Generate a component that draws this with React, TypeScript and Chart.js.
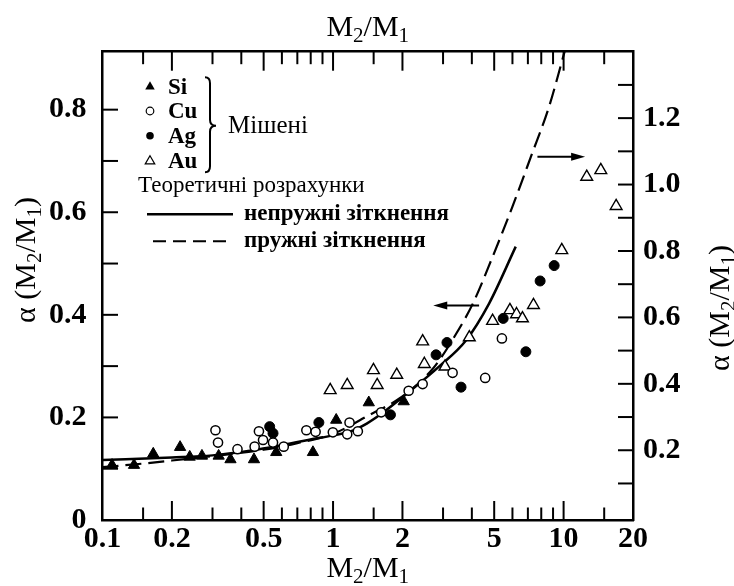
import React, { useEffect, useRef } from 'react';
import { Chart, registerables } from 'chart.js';

Chart.register(...registerables);

const FONT = '"Liberation Serif", "Times New Roman", serif';

// ---- axis ticks ----
const xTickLabels = [0.1, 0.2, 0.5, 1, 2, 5, 10, 20];
const xMajorTicks = [0.2, 0.5, 1, 2, 5, 10];
const xMinorTicks = [0.15, 0.3, 0.4, 0.6, 0.7, 0.8, 0.9, 1.5, 3, 4, 6, 7, 8, 9, 15];
const yLeftTicks = [0.1, 0.2, 0.3, 0.4, 0.5, 0.6, 0.7, 0.8];
const yLeftLabels = [0, 0.2, 0.4, 0.6, 0.8];
const yRightTicks = [0.1, 0.2, 0.3, 0.4, 0.5, 0.6, 0.7, 0.8, 0.9, 1.0, 1.1, 1.2, 1.3];
const yRightLabels = [0.2, 0.4, 0.6, 0.8, 1.0, 1.2];

// ---- experimental data ----
const siX = [0.11, 0.137, 0.166, 0.217, 0.239, 0.27, 0.319, 0.359, 0.454, 0.567, 0.818, 1.032, 1.429, 2.025];
const siY = [0.107, 0.107, 0.129, 0.142, 0.123, 0.125, 0.125, 0.118, 0.118, 0.132, 0.132, 0.195, 0.229, 0.231];

const cuX = [0.309, 0.317, 0.385, 0.457, 0.477, 0.497, 0.549, 0.611, 0.766, 0.84, 0.998, 1.152, 1.179, 1.281, 1.617, 2.128, 2.447, 3.3, 4.57, 5.4];
const cuY = [0.175, 0.151, 0.138, 0.143, 0.173, 0.156, 0.151, 0.143, 0.175, 0.172, 0.171, 0.167, 0.19, 0.173, 0.21, 0.252, 0.265, 0.287, 0.277, 0.354];

const agX = [0.531, 0.549, 0.868, 1.774, 2.798, 3.12, 3.59, 5.47, 6.86, 7.91, 9.1];
const agY = [0.182, 0.169, 0.19, 0.205, 0.322, 0.346, 0.259, 0.393, 0.328, 0.466, 0.496];

const auX = [0.972, 1.152, 1.497, 1.554, 1.889, 2.447, 2.489, 3.06, 3.9, 4.92, 5.85, 6.25, 6.63, 7.4, 9.82, 12.6, 14.5, 16.9];
const auY = [0.253, 0.263, 0.292, 0.263, 0.283, 0.348, 0.304, 0.299, 0.356, 0.388, 0.409, 0.401, 0.393, 0.419, 0.526, 0.669, 0.682, 0.612];

// ---- theoretical curves ----
const inelasticX = [0.1, 0.2, 0.3, 0.45, 0.6, 0.78, 1.0, 1.18, 1.4, 1.62, 2.14, 2.88, 3.77, 4.75, 6.2];
const inelasticY = [0.117, 0.122, 0.126, 0.136, 0.146, 0.156, 0.165, 0.172, 0.188, 0.207, 0.25, 0.299, 0.35, 0.422, 0.533];

const elasticX = [0.1, 0.15, 0.2, 0.35, 0.5, 0.7, 1.0, 1.44, 1.94, 2.72, 3.43, 4.04, 4.92, 6.0, 7.21, 8.65, 10.1];
const elasticY = [0.103, 0.11, 0.116, 0.128, 0.137, 0.15, 0.168, 0.205, 0.237, 0.296, 0.364, 0.422, 0.513, 0.611, 0.708, 0.806, 0.913];

// ---- arrows [xFrom, xTo, y] ----
const arrowRight = [7.7, 12.4, 0.708];
const arrowLeft = [4.3, 2.72, 0.418];

const toXY = (xs: number[], ys: number[]) => xs.map((x, i) => ({ x, y: ys[i] }));

type Part = [string, boolean];
const drawSubText = (
  ctx: CanvasRenderingContext2D,
  parts: Part[],
  cx: number,
  baseY: number,
  rot: number,
  size: number,
  weight = 'normal'
) => {
  const subSize = size * 0.7;
  ctx.save();
  ctx.translate(cx, baseY);
  ctx.rotate(rot);
  ctx.textBaseline = 'alphabetic';
  ctx.textAlign = 'left';
  ctx.fillStyle = '#000';
  let total = 0;
  const widths: number[] = [];
  parts.forEach(([t, sub]) => {
    ctx.font = `${weight} ${sub ? subSize : size}px ${FONT}`;
    const w = ctx.measureText(t).width;
    widths.push(w);
    total += w;
  });
  let x = -total / 2;
  parts.forEach(([t, sub], i) => {
    ctx.font = `${weight} ${sub ? subSize : size}px ${FONT}`;
    ctx.fillText(t, x, sub ? size * 0.2 : 0);
    x += widths[i];
  });
  ctx.restore();
};

const ratioParts: Part[] = [['M', false], ['2', true], ['/M', false], ['1', true]];
const alphaParts: Part[] = [['\u03b1 (M', false], ['2', true], ['/M', false], ['1', true], [')', false]];

const line = (ctx: CanvasRenderingContext2D, x0: number, y0: number, x1: number, y1: number) => {
  ctx.beginPath();
  ctx.moveTo(x0, y0);
  ctx.lineTo(x1, y1);
  ctx.stroke();
};

const decorPlugin = {
  id: 'decor',
  afterDraw(chart: any) {
    const ctx: CanvasRenderingContext2D = chart.ctx;
    const sx = chart.scales.x;
    const sy = chart.scales.y;
    const sy2 = chart.scales.y2;
    const left = sy.right;
    const right = sy2.left;
    const bottom = sx.top;
    const top = chart.scales.x2.bottom;
    ctx.save();
    ctx.setLineDash([]);
    ctx.globalAlpha = 1;
    ctx.strokeStyle = '#000000';
    ctx.fillStyle = '#000000';
    ctx.lineWidth = 2;
    // inward ticks
    xMajorTicks.forEach((v) => {
      const px = sx.getPixelForValue(v);
      line(ctx, px, bottom, px, bottom - 19);
      line(ctx, px, top, px, top + 19);
    });
    xMinorTicks.forEach((v) => {
      const px = sx.getPixelForValue(v);
      line(ctx, px, bottom, px, bottom - 12.5);
      line(ctx, px, top, px, top + 12.5);
    });
    yLeftTicks.forEach((v) => {
      const py = sy.getPixelForValue(v);
      line(ctx, left, py, left + 15.5, py);
    });
    yRightTicks.forEach((v) => {
      const py = sy2.getPixelForValue(v);
      line(ctx, right, py, right - 15, py);
    });

    // arrows
    const arrow = (a: number[]) => {
      const x0 = sx.getPixelForValue(a[0]);
      const x1 = sx.getPixelForValue(a[1]);
      const y = sy.getPixelForValue(a[2]);
      const dir = Math.sign(x1 - x0);
      ctx.lineWidth = 2;
      line(ctx, x0, y, x1 - dir * 10, y);
      ctx.beginPath();
      ctx.moveTo(x1, y);
      ctx.lineTo(x1 - dir * 14, y - 4);
      ctx.lineTo(x1 - dir * 14, y + 4);
      ctx.closePath();
      ctx.fill();
    };
    arrow(arrowRight);
    arrow(arrowLeft);

    // legend
    const L = left;
    const T = top;
    const rows: [string, string][] = [
      ['Si', 'triFill'],
      ['Cu', 'circOpen'],
      ['Ag', 'circFill'],
      ['Au', 'triOpen'],
    ];
    const rowY = [35, 59.3, 84, 109.5];
    ctx.textBaseline = 'middle';
    ctx.textAlign = 'left';
    rows.forEach(([name, kind], i) => {
      const y = T + rowY[i];
      const mx = L + 47.5;
      ctx.lineWidth = 1.2;
      if (kind.startsWith('tri')) {
        const r = 5.5;
        ctx.beginPath();
        ctx.moveTo(mx, y - r);
        ctx.lineTo(mx + r * 0.866, y + r * 0.5);
        ctx.lineTo(mx - r * 0.866, y + r * 0.5);
        ctx.closePath();
        if (kind === 'triFill') ctx.fill();
        else ctx.stroke();
      } else {
        ctx.beginPath();
        ctx.arc(mx, y, 3.8, 0, Math.PI * 2);
        if (kind === 'circFill') ctx.fill();
        else ctx.stroke();
      }
      ctx.font = `bold 23px ${FONT}`;
      ctx.fillText(name, L + 65.5, y + 1);
    });
    // brace
    const bx = L + 102.5;
    const bTop = T + 25.5;
    const bBot = T + 120.5;
    const bMid = T + 74;
    ctx.lineWidth = 2;
    ctx.beginPath();
    ctx.moveTo(bx, bTop);
    ctx.quadraticCurveTo(bx + 5, bTop, bx + 5, bTop + 6);
    ctx.lineTo(bx + 5, bMid - 6);
    ctx.quadraticCurveTo(bx + 5, bMid, bx + 11, bMid);
    ctx.quadraticCurveTo(bx + 5, bMid, bx + 5, bMid + 6);
    ctx.lineTo(bx + 5, bBot - 6);
    ctx.quadraticCurveTo(bx + 5, bBot, bx, bBot);
    ctx.stroke();
    ctx.font = `normal 25px ${FONT}`;
    ctx.fillText('Мішені', L + 125.5, T + 75);
    ctx.font = `normal 23px ${FONT}`;
    ctx.fillText('Теоретичні розрахунки', L + 35.5, T + 134.5);
    // line samples
    ctx.lineWidth = 2.5;
    line(ctx, L + 44.5, T + 162.5, L + 130.5, T + 162.5);
    ctx.lineWidth = 2;
    ctx.setLineDash([13, 7]);
    line(ctx, L + 50.5, T + 189.5, L + 130.5, T + 189.5);
    ctx.setLineDash([]);
    ctx.font = `bold 23px ${FONT}`;
    ctx.fillText('непружні зіткнення', L + 141.5, T + 162.5);
    ctx.fillText('пружні зіткнення', L + 141.5, T + 189.5);
    ctx.restore();

    // axis titles
    const cx = (left + right) / 2;
    drawSubText(ctx, ratioParts, cx, 36, 0, 30);
    drawSubText(ctx, ratioParts, cx, 577, 0, 30);
    drawSubText(ctx, alphaParts, 35, 260, -Math.PI / 2, 30);
    drawSubText(ctx, alphaParts, 729, 308, -Math.PI / 2, 30);
  },
};

export default function App() {
  const ref = useRef<HTMLCanvasElement | null>(null);
  useEffect(() => {
    if (!ref.current) return;
    const tickFont = { family: FONT, size: 30, weight: 'bold' as const };
    const border = { display: true, color: '#000', width: 2.5 };
    const noGrid = { display: false, drawTicks: false, drawOnChartArea: false };
    const chart = new Chart(ref.current, {
      type: 'scatter',
      data: {
        datasets: [
          {
            label: 'Si',
            data: toXY(siX, siY),
            pointStyle: 'triangle',
            pointRadius: 6.5,
            backgroundColor: '#000',
            borderColor: '#000',
            borderWidth: 1,
          },
          {
            label: 'Cu',
            data: toXY(cuX, cuY),
            pointStyle: 'circle',
            pointRadius: 4.6,
            backgroundColor: '#fff',
            borderColor: '#000',
            borderWidth: 1.5,
          },
          {
            label: 'Ag',
            data: toXY(agX, agY),
            pointStyle: 'circle',
            pointRadius: 5,
            backgroundColor: '#000',
            borderColor: '#000',
            borderWidth: 1,
          },
          {
            label: 'Au',
            data: toXY(auX, auY),
            pointStyle: 'triangle',
            pointRadius: 6.8,
            backgroundColor: '#fff',
            borderColor: '#000',
            borderWidth: 1.4,
          },
          {
            label: 'непружні зіткнення',
            data: toXY(inelasticX, inelasticY),
            showLine: true,
            pointRadius: 0,
            borderColor: '#000',
            borderWidth: 2.5,
            cubicInterpolationMode: 'monotone',
            fill: false,
          } as any,
          {
            label: 'пружні зіткнення',
            data: toXY(elasticX, elasticY),
            showLine: true,
            pointRadius: 0,
            borderColor: '#000',
            borderWidth: 2.2,
            borderDash: [16, 7],
            cubicInterpolationMode: 'monotone',
            fill: false,
          } as any,
        ],
      },
      options: {
        animation: false,
        responsive: false,
        events: [],
        layout: { padding: 0 },
        plugins: { legend: { display: false }, tooltip: { enabled: false }, title: { display: false } },
        scales: {
          x: {
            type: 'logarithmic',
            position: 'bottom',
            min: 0.1,
            max: 20,
            afterBuildTicks: (s: any) => {
              s.ticks = xTickLabels.map((v) => ({ value: v }));
            },
            afterFit: (s: any) => {
              s.height = 66;
            },
            ticks: {
              callback: (v: any) => String(Number(v)),
              font: tickFont,
              color: '#000',
              padding: 1,
              maxRotation: 0,
              autoSkip: false,
            },
            grid: noGrid,
            border,
          },
          x2: {
            type: 'logarithmic',
            position: 'top',
            axis: 'x',
            min: 0.1,
            max: 20,
            ticks: { display: false },
            afterFit: (s: any) => {
              s.height = 51.7;
            },
            grid: noGrid,
            border,
          },
          y: {
            type: 'linear',
            position: 'left',
            min: 0,
            max: 0.913,
            afterBuildTicks: (s: any) => {
              s.ticks = yLeftLabels.map((v) => ({ value: v }));
            },
            afterFit: (s: any) => {
              s.width = 102.5;
            },
            ticks: {
              callback: (v: any) => (Number(v) === 0 ? '0' : Number(v).toFixed(1)),
              font: tickFont,
              color: '#000',
              padding: 16,
              autoSkip: false,
            },
            grid: noGrid,
            border,
          },
          y2: {
            type: 'linear',
            position: 'right',
            axis: 'y',
            min: -0.01,
            max: 1.4,
            afterBuildTicks: (s: any) => {
              s.ticks = yRightLabels.map((v) => ({ value: v }));
            },
            afterFit: (s: any) => {
              s.width = 101;
            },
            ticks: {
              callback: (v: any) => Number(v).toFixed(1),
              font: tickFont,
              color: '#000',
              padding: 10,
              autoSkip: false,
            },
            grid: noGrid,
            border,
          },
        },
      } as any,
      plugins: [decorPlugin],
    });
    return () => chart.destroy();
  }, []);

  return (
    <div style={{ position: 'fixed', left: 0, top: 0, width: 734, height: 586, background: '#fff' }}>
      <canvas ref={ref} width={734} height={586} style={{ display: 'block' }} />
    </div>
  );
}
